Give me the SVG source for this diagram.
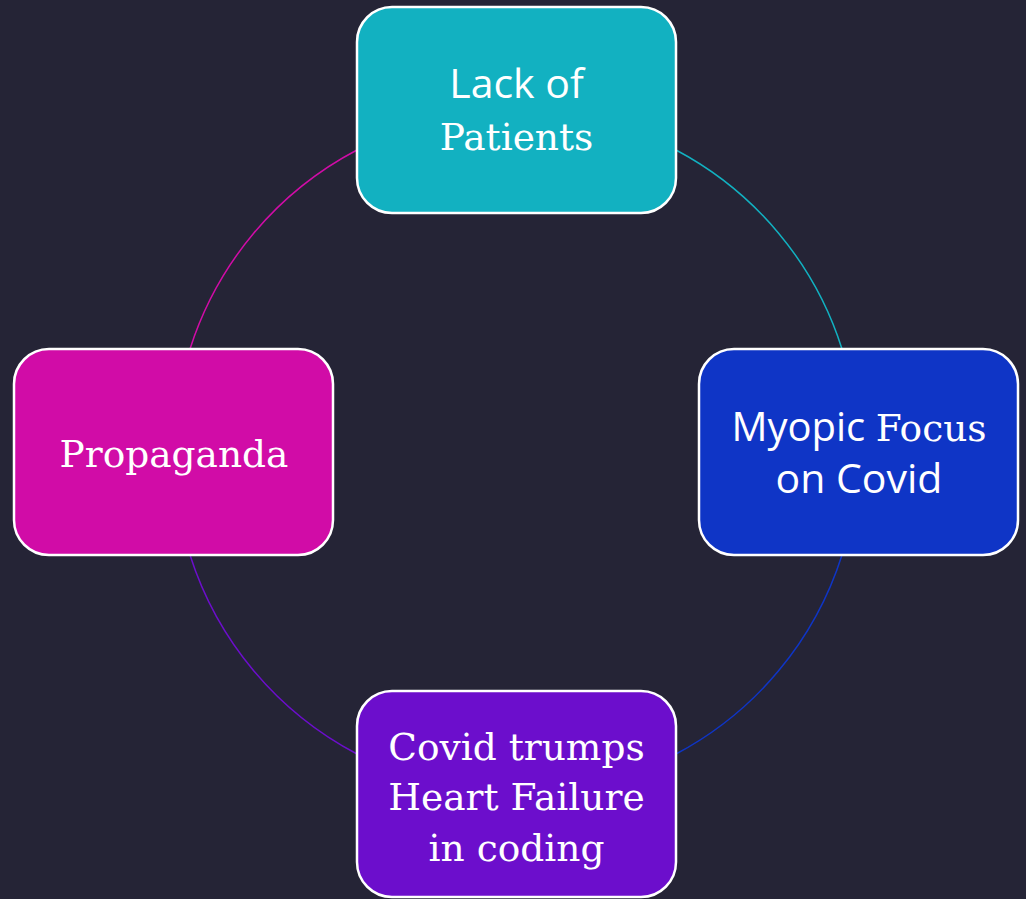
<svg xmlns="http://www.w3.org/2000/svg" width="1026" height="899" viewBox="0 0 1026 899">
<style>
.node{stroke:#ffffff;stroke-width:2.5}
.t{fill:#ffffff;text-anchor:middle}
.sans{font-family:"Open Sans","Noto Sans",sans-serif;font-size:41px}
.serif{font-family:"DejaVu Serif","Liberation Serif",serif;font-size:37.5px}
.arc{fill:none;stroke-width:1.5}
</style>
<rect width="1026" height="899" fill="#252436"/>
<g id="connectors">
<path class="arc" stroke="#12b1c1" d="M 676 150 A 342 342 0 0 1 842 349"/>
<path class="arc" stroke="#0f35c6" d="M 842 555 A 342 342 0 0 1 676 754"/>
<path class="arc" stroke="#6c0ecc" d="M 357 754 A 342 342 0 0 1 190 555"/>
<path class="arc" stroke="#d10ca7" d="M 190 349 A 342 342 0 0 1 357 150"/>
</g>
<g id="lack">
<rect class="node" x="357" y="7" width="319" height="206" rx="35" fill="#12b1c1"/>
<text class="t sans" x="516.5" y="98">Lack of</text>
<text class="t serif" x="516.5" y="150">Patients</text>
</g>
<g id="myopic">
<rect class="node" x="699" y="349" width="319" height="206" rx="35" fill="#0f35c6"/>
<text class="t" x="859" y="441"><tspan class="sans" style="font-size:40px">Myopic </tspan><tspan class="serif">Focus</tspan></text>
<text class="t sans" x="859" y="493">on Covid</text>
</g>
<g id="covid">
<rect class="node" x="357" y="691" width="319" height="206" rx="35" fill="#6c0ecc"/>
<text class="t serif" x="516.5" y="760">Covid trumps</text>
<text class="t serif" x="516.5" y="810">Heart Failure</text>
<text class="t serif" x="516.5" y="861">in coding</text>
</g>
<g id="propaganda">
<rect class="node" x="14" y="349" width="319" height="206" rx="35" fill="#d10ca7"/>
<text class="t serif" x="174" y="467">Propaganda</text>
</g>
</svg>
